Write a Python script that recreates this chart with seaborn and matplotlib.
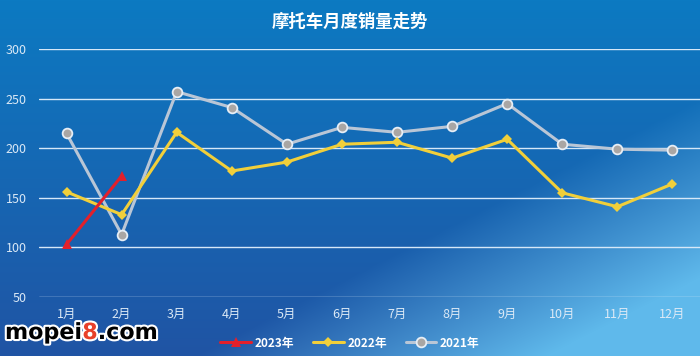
"""Monthly motorcycle sales trend, three years on one line chart."""

import matplotlib.pyplot as plt
import matplotlib.patheffects as pe
import numpy as np
import pandas as pd
import seaborn as sns

sns.set_theme(style="white")
plt.rcParams["font.family"] = ["Noto Sans CJK SC", "DejaVu Sans"]

MONTHS = ["1月", "2月", "3月", "4月", "5月", "6月", "7月", "8月", "9月", "10月", "11月", "12月"]
SALES_2023 = [103, 172]
SALES_2022 = [156, 133, 216, 177, 186, 204, 206, 190, 209, 155, 141, 164]
SALES_2021 = [215, 113, 257, 241, 204, 221, 216, 222, 245, 204, 199, 198]
Y_TICKS = [50, 100, 150, 200, 250, 300]

TEXT_COLOR = "#dbe9f6"


def draw_background(fig):
    # blue gradient, lighter streak towards bottom right
    h, w = 356, 700
    yy, xx = np.mgrid[0:h, 0:w] / np.array([h, w])[:, None, None]
    top = np.array([12, 122, 194]) / 255
    bottom = np.array([32, 84, 164]) / 255
    light = np.array([95, 185, 235]) / 255
    t = yy[..., None]
    img = top * (1 - t) + bottom * t
    band = np.clip((xx * 0.9 + yy * 0.9 - 1.15) / 0.45, 0, 1)[..., None]
    img = img * (1 - band) + light * band
    bg = fig.add_axes([0, 0, 1, 1], zorder=-10)
    bg.imshow(img, aspect="auto", extent=[0, 1, 0, 1])
    bg.axis("off")


def watermark(fig, pieces, x0, y0):
    stroke = [pe.withStroke(linewidth=3, foreground="white")]
    renderer = fig.canvas.get_renderer()
    x = x0
    for text, color in pieces:
        t = fig.text(x, y0, text, ha="left", va="center", fontsize=16,
                     fontweight="bold", color=color, family="DejaVu Sans",
                     path_effects=stroke)
        bb = t.get_window_extent(renderer)
        x += bb.width / fig.bbox.width


def main():
    fig = plt.figure(figsize=(7, 3.56), dpi=100)
    draw_background(fig)

    ax = fig.add_axes([39 / 700, 59 / 356, 661 / 700, 248 / 356])
    ax.set_facecolor("none")

    df21 = pd.DataFrame({"month": MONTHS, "sales": SALES_2021})
    df22 = pd.DataFrame({"month": MONTHS, "sales": SALES_2022})
    df23 = pd.DataFrame({"month": MONTHS[:len(SALES_2023)], "sales": SALES_2023})

    sns.lineplot(data=df21, x="month", y="sales", sort=False, ax=ax,
                 color="#b9c6d6", linewidth=2.2, marker="o", markersize=7,
                 markerfacecolor="#a9a6a4", markeredgecolor="#e6eef6",
                 markeredgewidth=1.3, label="2021年", zorder=3)
    sns.lineplot(data=df22, x="month", y="sales", sort=False, ax=ax,
                 color="#f1cf3a", linewidth=2.2, marker="D", markersize=5,
                 markeredgewidth=0, label="2022年", zorder=4)
    sns.lineplot(data=df23, x="month", y="sales", sort=False, ax=ax,
                 color="#e3202b", linewidth=2.2, marker="^", markersize=7,
                 markeredgewidth=0, label="2023年", zorder=5)

    ax.set_xlim(-0.5, 11.5)
    ax.set_ylim(50, 300)
    ax.set_yticks(Y_TICKS)
    ax.yaxis.grid(True, color="#d6e8f8", linewidth=1)
    ax.xaxis.grid(False)
    for spine in ax.spines.values():
        spine.set_visible(False)
    ax.tick_params(axis="both", length=0, colors=TEXT_COLOR, labelsize=9)
    ax.tick_params(axis="y", pad=9)
    ax.tick_params(axis="x", pad=8)
    ax.set_xlabel("")
    ax.set_ylabel("")

    handles, labels = ax.get_legend_handles_labels()
    order = [2, 1, 0]
    leg = fig.legend([handles[i] for i in order], [labels[i] for i in order],
                     loc="center", bbox_to_anchor=(350 / 700, 1 - 343 / 356),
                     ncol=3, frameon=False, fontsize=8.5, handlelength=2.6,
                     columnspacing=1.6, handletextpad=0.3)
    for text in leg.get_texts():
        text.set_color("white")
        text.set_fontweight("bold")
    if ax.get_legend():
        ax.get_legend().remove()

    fig.text(0.5, 1 - 22 / 356, "摩托车月度销量走势", ha="center", va="center",
             color="white", fontsize=12.5, fontweight="bold")

    # site watermark
    watermark(fig, [("mopei", "black"), ("8", "#e8402a"), (".com", "black")],
              5 / 700, 1 - 333 / 356)

    fig.savefig("out.png", dpi=100)
    plt.close(fig)


if __name__ == "__main__":
    main()
